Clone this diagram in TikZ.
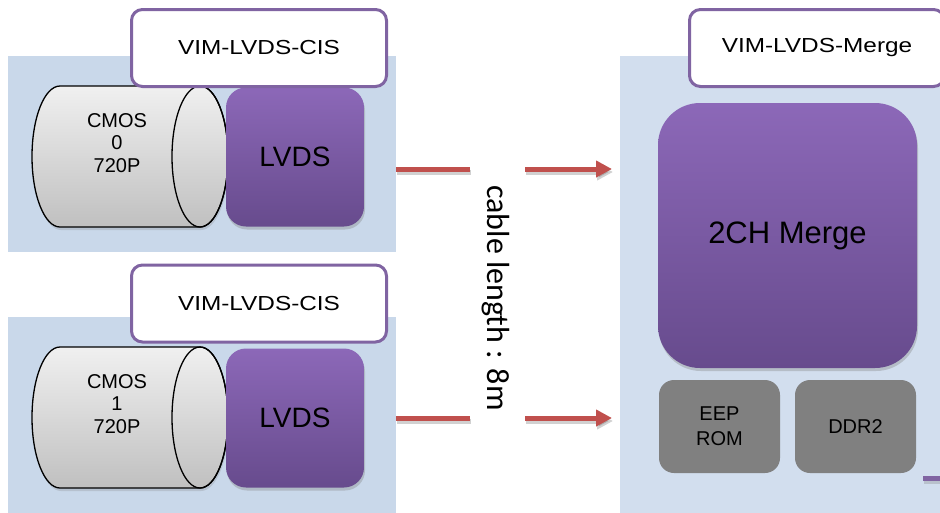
\documentclass[tikz,border=0pt]{standalone}
\usepackage{fontspec}
\setmainfont{Liberation Sans}
\newfontfamily\titlefont{Liberation Sans}[FakeStretch=1.2]
\newfontfamily\cablefont{Carlito}
\usetikzlibrary{shadows,arrows.meta}
\definecolor{panelL}{RGB}{201,216,234}
\definecolor{panelR}{RGB}{210,222,238}
\definecolor{vpurple}{RGB}{128,100,162}
\definecolor{ptop}{RGB}{140,104,184}
\definecolor{pbot}{RGB}{103,75,141}
\definecolor{cred}{RGB}{192,80,77}
\definecolor{gbox}{RGB}{128,128,128}
\definecolor{ctop}{RGB}{240,240,240}
\definecolor{cbot}{RGB}{192,192,192}
\tikzset{
  panel/.style={fill=#1, draw=none},
  titlebox/.style={draw=vpurple, line width=3pt, fill=white, rounded corners=11pt,
    minimum width=255pt, minimum height=77pt, inner sep=0pt,
    font=\titlefont\fontsize{20.3}{24}\selectfont},
  chip/.style={top color=ptop, bottom color=pbot, draw=none, rounded corners=#1,
    inner sep=0pt, drop shadow={shadow xshift=1pt, shadow yshift=-3pt, opacity=0.35}},
  lvdsbox/.style={chip=20pt, minimum width=138pt, minimum height=139pt,
    font=\fontsize{28}{32}\selectfont},
  membox/.style={fill=gbox, draw=none, rounded corners=15pt, minimum width=121pt,
    minimum height=93pt, inner sep=0pt, align=center,
    font=\fontsize{20}{25}\selectfont},
  cmostext/.style={align=center, inner sep=0pt, font=\fontsize{20}{22.5}\selectfont},
  cylbody/.style={top color=ctop, bottom color=cbot, draw=black, line width=1.3pt},
  cable/.style={draw=cred, line width=5pt},
  cableshadow/.style={draw=black, opacity=0.18, line width=5pt},
  cablearrow/.style={cable, -{Triangle[length=16pt,width=16pt]}},
  cableshadowarrow/.style={cableshadow, -{Triangle[length=16pt,width=16pt]}},
}
\begin{document}
\begin{tikzpicture}[x=1pt,y=-1pt]
\useasboundingbox (0,0) rectangle (940,512);
% panels
\fill[panel=panelL] (8,56) rectangle (396,252);
\fill[panel=panelL] (8,317) rectangle (396,520);
\fill[panel=panelR] (620,56) rectangle (950,520);

% cylinders
\foreach \cy/\nm in {156.5/cylA, 417.5/cylB}{
  \path[cylbody, drop shadow={shadow xshift=1pt, shadow yshift=-3pt, opacity=0.25}]
    (60,\cy-70.5) -- (200,\cy-70.5)
    arc[start angle=-90, end angle=90, x radius=28, y radius=70.5]
    -- (60,\cy+70.5)
    arc[start angle=90, end angle=270, x radius=28, y radius=70.5] -- cycle;
  \draw[line width=1.3pt] (200,\cy) ellipse[x radius=28, y radius=70.5];
}
\node[cmostext] (cmos0) at (117,143) {CMOS\\0\\720P};
\node[cmostext] (cmos1) at (117,404) {CMOS\\1\\720P};

% LVDS chips
\node[lvdsbox] (lvds0) at (295,157) {LVDS};
\node[lvdsbox] (lvds1) at (295,418) {LVDS};

% title boxes
\node[titlebox] (cis0) at (259,48) {VIM-LVDS-CIS};
\node[titlebox] (cis1) at (259,303.5) {VIM-LVDS-CIS};
\node[titlebox] (mergetitle) at (817,48) {VIM-LVDS-Merge};

% merge board
\node[chip=42pt, minimum width=259pt, minimum height=265pt,
  font=\fontsize{31}{36}\selectfont] (merge) at (787.5,235.5) {2CH Merge};
\node[membox] (eep) at (719.5,426.5) {EEP\\ROM};
\node[membox] (ddr) at (855.5,426.5) {DDR2};
\fill[vpurple, drop shadow={shadow xshift=1pt, shadow yshift=-3pt, opacity=0.3}] (923,476) rectangle (945,481);

% cables
\coordinate (a0s) at (396,169); \coordinate (a0m) at (470,169);
\coordinate (a0n) at (525,169); \coordinate (a0e) at (612,169);
\coordinate (a1s) at (396,418); \coordinate (a1m) at (470,418);
\coordinate (a1n) at (525,418); \coordinate (a1e) at (612,418);
\foreach \s/\m/\n/\e in {a0s/a0m/a0n/a0e, a1s/a1m/a1n/a1e}{
  \draw[cableshadow] ([shift={(1,3)}]\s) -- ([shift={(1,3)}]\m);
  \draw[cableshadowarrow] ([shift={(1,3)}]\n) -- ([shift={(1,3)}]\e);
  \draw[cable] (\s) -- (\m);
  \draw[cablearrow] (\n) -- (\e);
}
\node[rotate=-90, inner sep=0pt, font=\cablefont\fontsize{32}{36}\selectfont] (cablelen) at (496,298) {cable length : 8m};
\end{tikzpicture}
\end{document}
